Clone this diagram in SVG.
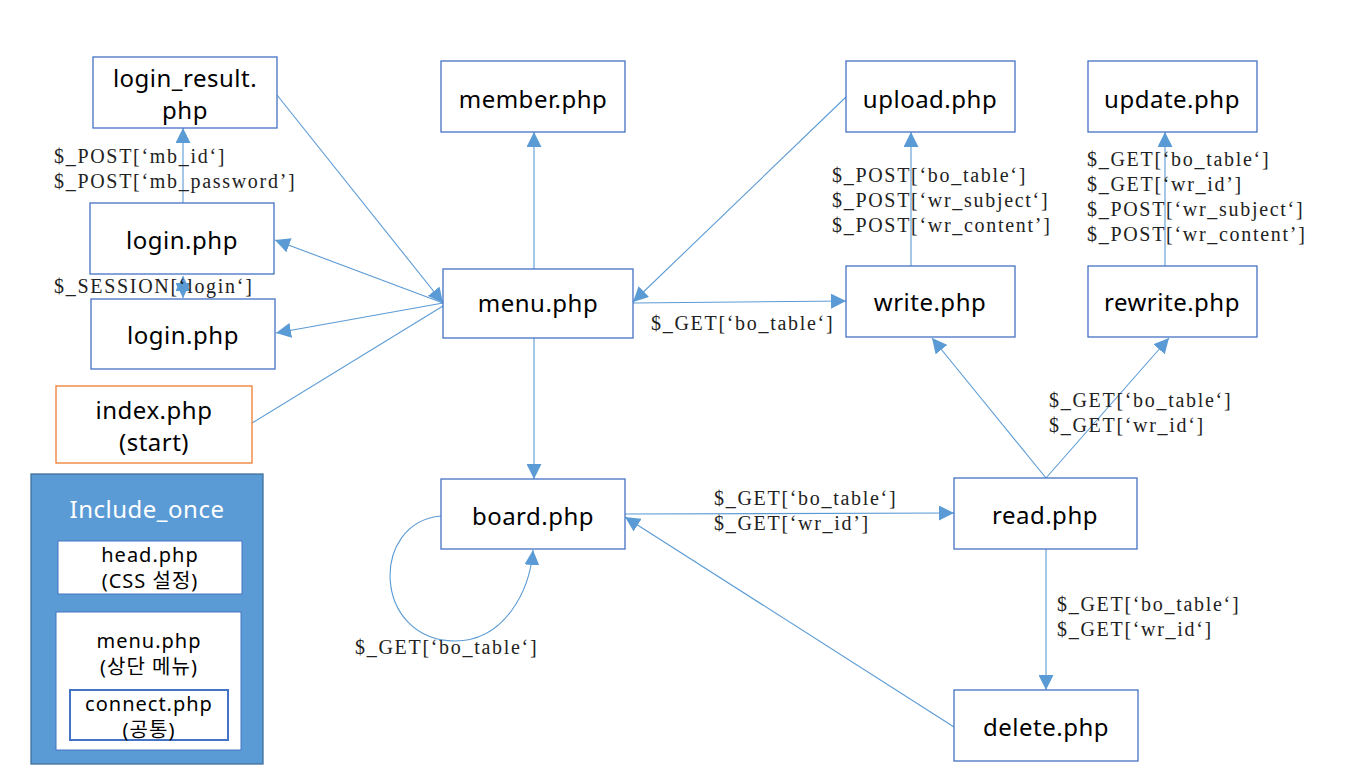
<svg xmlns="http://www.w3.org/2000/svg" width="1359" height="777" viewBox="0 0 1359 777">
<style>
.n{fill:#fff;stroke:#4472C4;stroke-width:1.3}
.t{font-family:"Noto Sans","Noto Sans CJK KR",sans-serif;font-size:24px;letter-spacing:0.5px;fill:#000;text-anchor:middle}
.s{font-family:"Noto Sans","Noto Sans CJK KR",sans-serif;font-size:20px;letter-spacing:1px;fill:#000;text-anchor:middle}
.l{font-family:"Liberation Serif","Noto Sans CJK KR",serif;font-size:20px;letter-spacing:1.7px;fill:#222}
.c{fill:none;stroke:#5B9BD5;stroke-width:1.1}
</style>
<defs>
<marker id="a" viewBox="0 0 10 10" refX="10" refY="5" markerWidth="15" markerHeight="15" markerUnits="userSpaceOnUse" orient="auto-start-reverse">
<path d="M0,0 L10,5 L0,10 z" fill="#5B9BD5"/>
</marker>
</defs>
<rect width="1359" height="777" fill="#fff"/>
<g id="connectors">
<path class="c" d="M277,95 L443,303" marker-end="url(#a)"/>
<path class="c" d="M443,303 L275,240" marker-end="url(#a)"/>
<path class="c" d="M443,303 L276,333" marker-end="url(#a)"/>
<path class="c" d="M252,423 L443,306"/>
<path class="c" d="M183,203 L183,128" marker-end="url(#a)"/>
<path class="c" d="M183,276 L183,298" marker-end="url(#a)" marker-start="url(#a)"/>
<path class="c" d="M534,269 L534,132" marker-end="url(#a)"/>
<path class="c" d="M846,97 L633,302" marker-end="url(#a)"/>
<path class="c" d="M633,303 L846,301" marker-end="url(#a)"/>
<path class="c" d="M911,266 L911,132" marker-end="url(#a)"/>
<path class="c" d="M1165,266 L1165,132" marker-end="url(#a)"/>
<path class="c" d="M534,338 L534,479" marker-end="url(#a)"/>
<path class="c" d="M625,514 L954,513" marker-end="url(#a)"/>
<path class="c" d="M1046,478 L932,338" marker-end="url(#a)"/>
<path class="c" d="M1046,478 L1169,338" marker-end="url(#a)"/>
<path class="c" d="M1046,549 L1046,690" marker-end="url(#a)"/>
<path class="c" d="M954,727 L625,517" marker-end="url(#a)"/>
<path class="c" d="M441,516 C370,522 372,640 455,641 C505,641 530,590 533,550" marker-end="url(#a)"/>
</g>
<g id="login_result"><rect class="n" x="93" y="57" width="184" height="71"/><text class="t" x="185" y="87">login_result.</text><text class="t" x="185" y="119">php</text></g>
<g id="member"><rect class="n" x="441" y="61" width="184" height="71"/><text class="t" x="533" y="108">member.php</text></g>
<g id="upload"><rect class="n" x="846" y="61" width="169" height="71"/><text class="t" x="930" y="108">upload.php</text></g>
<g id="update"><rect class="n" x="1088" y="61" width="169" height="71"/><text class="t" x="1172" y="108">update.php</text></g>
<g id="login1"><rect class="n" x="90" y="203" width="184" height="71"/><text class="t" x="182" y="249">login.php</text></g>
<g id="menu"><rect class="n" x="443" y="269" width="190" height="69"/><text class="t" x="538" y="312">menu.php</text></g>
<g id="write"><rect class="n" x="846" y="266" width="169" height="71"/><text class="t" x="930" y="311">write.php</text></g>
<g id="rewrite"><rect class="n" x="1088" y="266" width="169" height="71"/><text class="t" x="1172" y="311">rewrite.php</text></g>
<g id="login2"><rect class="n" x="91" y="299" width="184" height="70"/><text class="t" x="183" y="344">login.php</text></g>
<g id="index"><rect x="56" y="386" width="196" height="77" fill="#fff" stroke="#ED7D31" stroke-width="1.3"/><text class="t" x="154" y="419">index.php</text><text class="t" x="154" y="451">(start)</text></g>
<g id="board"><rect class="n" x="441" y="479" width="184" height="70"/><text class="t" x="533" y="525">board.php</text></g>
<g id="read"><rect class="n" x="954" y="478" width="183" height="71"/><text class="t" x="1045" y="524">read.php</text></g>
<g id="delete"><rect class="n" x="954" y="690" width="184" height="71"/><text class="t" x="1046" y="736">delete.php</text></g>
<g id="include_once">
<rect x="31" y="474" width="232" height="290" fill="#5B9BD5" stroke="#41719C" stroke-width="1.3"/>
<text class="t" x="147" y="518" style="fill:#fff">Include_once</text>
<rect x="58" y="541" width="184" height="53" fill="#fff" stroke="#4472C4" stroke-width="1"/>
<text class="s" x="150" y="562">head.php</text><text class="s" x="150" y="588">(CSS 설정)</text>
<rect x="56" y="612" width="185" height="138" fill="#fff" stroke="#4472C4" stroke-width="1"/>
<text class="s" x="149" y="648">menu.php</text><text class="s" x="149" y="674">(상단 메뉴)</text>
<rect x="70" y="690" width="158" height="50" fill="#fff" stroke="#4472C4" stroke-width="2"/>
<text class="s" x="149" y="711">connect.php</text><text class="s" x="149" y="737">(공통)</text>
</g>
<g id="labels">
<text class="l" x="54" y="163">$_POST[‘mb_id‘]</text>
<text class="l" x="54" y="188">$_POST[‘mb_password’]</text>
<text class="l" x="54" y="293">$_SESSION[‘login‘]</text>
<text class="l" x="651" y="330">$_GET[‘bo_table‘]</text>
<text class="l" x="832" y="182">$_POST[‘bo_table‘]</text>
<text class="l" x="832" y="207">$_POST[‘wr_subject‘]</text>
<text class="l" x="832" y="232">$_POST[‘wr_content’]</text>
<text class="l" x="1087" y="166">$_GET[‘bo_table‘]</text>
<text class="l" x="1087" y="191">$_GET[‘wr_id’]</text>
<text class="l" x="1087" y="216">$_POST[‘wr_subject‘]</text>
<text class="l" x="1087" y="241">$_POST[‘wr_content’]</text>
<text class="l" x="1049" y="407">$_GET[‘bo_table‘]</text>
<text class="l" x="1049" y="432">$_GET[‘wr_id‘]</text>
<text class="l" x="714" y="505">$_GET[‘bo_table‘]</text>
<text class="l" x="714" y="530">$_GET[‘wr_id’]</text>
<text class="l" x="1057" y="611">$_GET[‘bo_table‘]</text>
<text class="l" x="1057" y="636">$_GET[‘wr_id‘]</text>
<text class="l" x="355" y="654">$_GET[‘bo_table‘]</text>
</g>
</svg>
